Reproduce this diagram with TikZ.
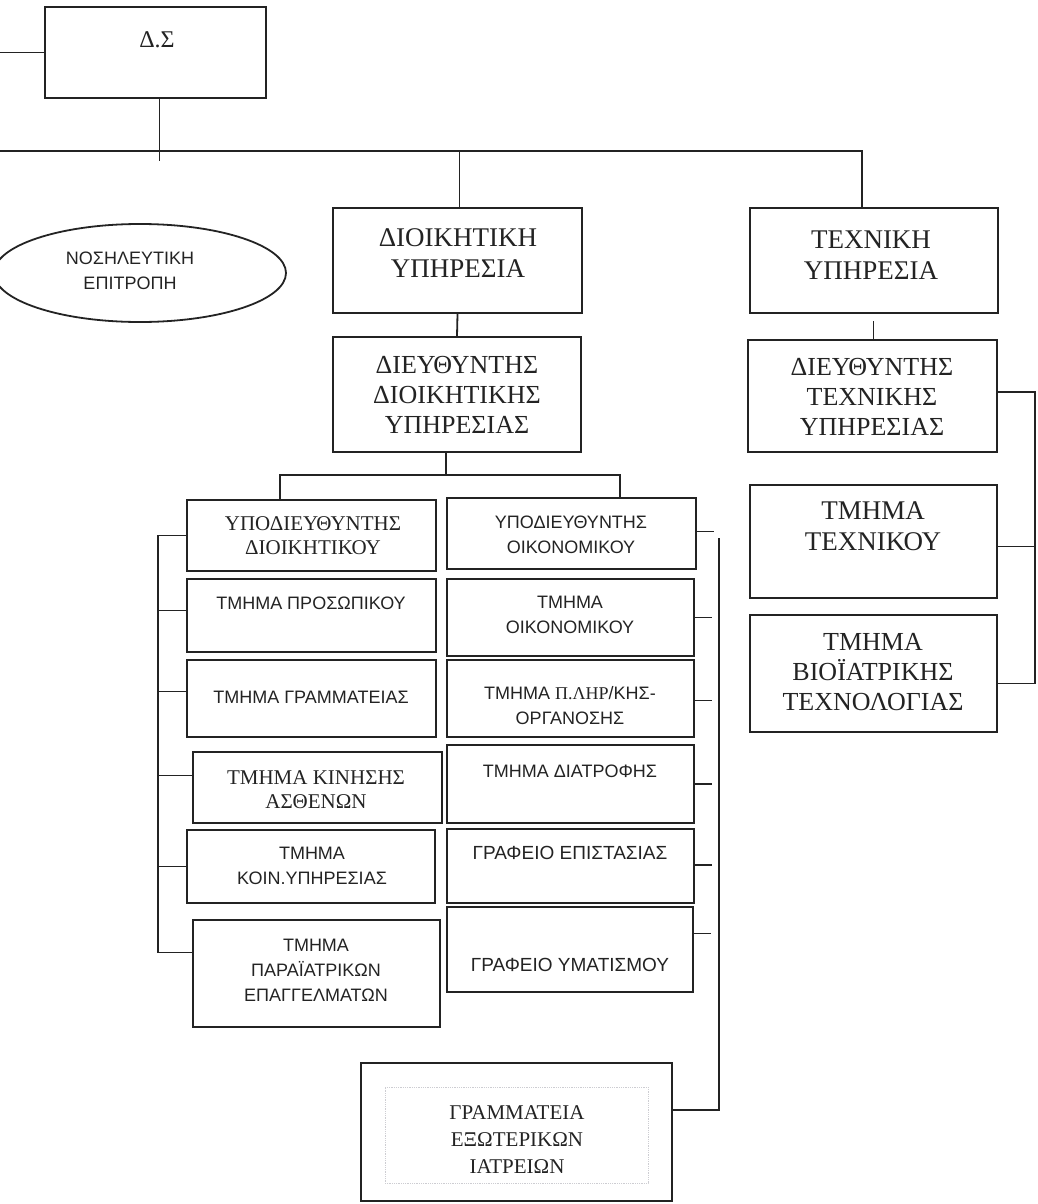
\documentclass[tikz,border=0pt]{standalone}
\usepackage{fontspec}
\setmainfont{Liberation Serif}
\setsansfont{Liberation Sans}
\usepackage{tikz}
\usetikzlibrary{positioning,fit,calc,shapes.geometric}
\definecolor{inkgray}{RGB}{35,35,35}
\definecolor{faintgray}{RGB}{205,205,210}

\tikzset{
  box/.style={draw=inkgray, line width=1.8pt, inner sep=0pt},
  conn/.style={draw=inkgray, line width=1.8pt},
  bigtxt/.style={font=\fontsize{27}{31}\selectfont, align=center, inner sep=0pt, text=inkgray},
  smtxt/.style={font=\fontsize{21}{24}\selectfont, align=center, inner sep=0pt, text=inkgray},
  sftxt/.style={font=\sffamily\fontsize{18}{25}\selectfont, align=center, inner sep=0pt, text=inkgray}
}

\begin{document}
\begin{tikzpicture}[x=1pt, y=-1pt]
  \useasboundingbox (0,0) rectangle (1037,1204);
  % top level
  \node[box, fit={(45,7) (266,98)}] (ds) {};
  \node[bigtxt, font=\fontsize{24}{26}\selectfont] (ds-t) at (157,40) {Δ.Σ};
  \node[box, ellipse, minimum width=292, minimum height=98] (nosil) at (140,273) {};
  \node[sftxt] (nosil-t) at (130,271) {ΝΟΣΗΛΕΥΤΙΚΗ\\ΕΠΙΤΡΟΠΗ};

  % services
  \node[box, fit={(333,208) (582,313)}] (dioik) {};
  \node[bigtxt] (dioik-t) at (458,253) {ΔΙΟΙΚΗΤΙΚΗ\\ΥΠΗΡΕΣΙΑ};
  \node[box, fit={(333,337) (581,452)}] (dieuth) {};
  \node[bigtxt, font=\fontsize{26}{30}\selectfont] (dieuth-t) at (457,395) {ΔΙΕΥΘΥΝΤΗΣ\\ΔΙΟΙΚΗΤΙΚΗΣ\\ΥΠΗΡΕΣΙΑΣ};
  \node[box, fit={(750,208) (998,313)}] (tech) {};
  \node[bigtxt] (tech-t) at (871,255) {ΤΕΧΝΙΚΗ\\ΥΠΗΡΕΣΙΑ};
  \node[box, fit={(748,340) (997,452)}] (dtech) {};
  \node[bigtxt, font=\fontsize{26}{30}\selectfont] (dtech-t) at (872,397) {ΔΙΕΥΘΥΝΤΗΣ\\ΤΕΧΝΙΚΗΣ\\ΥΠΗΡΕΣΙΑΣ};
  \node[box, fit={(750,485) (997,598)}] (ttech) {};
  \node[bigtxt] (ttech-t) at (873,526) {ΤΜΗΜΑ\\ΤΕΧΝΙΚΟΥ};
  \node[box, fit={(750,615) (997,732)}] (bio) {};
  \node[bigtxt, font=\fontsize{26}{30}\selectfont] (bio-t) at (873,672) {ΤΜΗΜΑ\\ΒΙΟΪΑΤΡΙΚΗΣ\\ΤΕΧΝΟΛΟΓΙΑΣ};

  % left column
  \node[box, fit={(187,500) (436,571)}] (ypod) {};
  \node[smtxt] (ypod-t) at (313,536) {ΥΠΟΔΙΕΥΘΥΝΤΗΣ\\ΔΙΟΙΚΗΤΙΚΟΥ};
  \node[box, fit={(187,579) (436,652)}] (pros) {};
  \node[sftxt] (pros-t) at (311,603) {ΤΜΗΜΑ ΠΡΟΣΩΠΙΚΟΥ};
  \node[box, fit={(187,660) (436,737)}] (gram) {};
  \node[sftxt] (gram-t) at (311,697) {ΤΜΗΜΑ ΓΡΑΜΜΑΤΕΙΑΣ};
  \node[box, fit={(193,752) (442,823)}] (kin) {};
  \node[smtxt] (kin-t) at (316,790) {ΤΜΗΜΑ ΚΙΝΗΣΗΣ\\ΑΣΘΕΝΩΝ};
  \node[box, fit={(187,830) (435,903)}] (koin) {};
  \node[sftxt] (koin-t) at (312,866) {ΤΜΗΜΑ\\ΚΟΙΝ.ΥΠΗΡΕΣΙΑΣ};
  \node[box, fit={(193,920) (440,1027)}] (para) {};
  \node[sftxt] (para-t) at (316,970) {ΤΜΗΜΑ\\ΠΑΡΑΪΑΤΡΙΚΩΝ\\ΕΠΑΓΓΕΛΜΑΤΩΝ};

  % right column
  \node[box, fit={(447,498) (696,569)}] (ypoo) {};
  \node[sftxt] (ypoo-t) at (571,535) {ΥΠΟΔΙΕΥΘΥΝΤΗΣ\\ΟΙΚΟΝΟΜΙΚΟΥ};
  \node[box, fit={(447,579) (694,656)}] (oik) {};
  \node[sftxt] (oik-t) at (570,615) {ΤΜΗΜΑ\\ΟΙΚΟΝΟΜΙΚΟΥ};
  \node[box, fit={(447,660) (694,737)}] (plir) {};
  \node[sftxt] (plir-t) at (570,706) {ΤΜΗΜΑ {\rmfamily Π.ΛΗΡ}/ΚΗΣ-\\ΟΡΓΑΝΟΣΗΣ};
  \node[box, fit={(447,745) (694,823)}] (diat) {};
  \node[sftxt] (diat-t) at (570,771) {ΤΜΗΜΑ ΔΙΑΤΡΟΦΗΣ};
  \node[box, fit={(447,829) (694,903)}] (epis) {};
  \node[sftxt, font=\sffamily\fontsize{19}{25}\selectfont] (epis-t) at (570,853) {ΓΡΑΦΕΙΟ ΕΠΙΣΤΑΣΙΑΣ};
  \node[box, fit={(447,907) (693,992)}] (ymat) {};
  \node[sftxt, font=\sffamily\fontsize{19}{25}\selectfont] (ymat-t) at (570,965) {ΓΡΑΦΕΙΟ ΥΜΑΤΙΣΜΟΥ};

  % outpatient office
  \node[box, fit={(361,1063) (672,1201)}] (grex) {};
  \node[draw=faintgray, densely dotted, line width=0.8pt, inner sep=0pt, fit={(385,1087) (648,1183)}] (grex-in) {};
  \node[smtxt, font=\fontsize{21}{27}\selectfont] (grex-t) at (517,1140) {ΓΡΑΜΜΑΤΕΙΑ\\ΕΞΩΤΕΡΙΚΩΝ\\ΙΑΤΡΕΙΩΝ};

  % connectors
  \coordinate (lft) at (0,151);
  \coordinate (busR) at (862,151);
  \coordinate (busL2) at (280,475);
  \coordinate (busR2) at (620,475);
  \coordinate (brL) at (158,537);
  \coordinate (brR) at (719,538);
  \coordinate (brT) at (1035,392);

  \draw[conn] (ds.west) -- (ds.west -| lft);
  \draw[conn] ([xshift=4pt]ds.south) -- ++(0,62);
  \draw[conn] (lft) -- (busR) -- (busR |- tech.north);
  \draw[conn] ([xshift=2pt]dioik.north |- lft) -- ([xshift=2pt]dioik.north);
  \draw[conn] (dioik.south) -- (dieuth.north);
  \draw[conn] ([xshift=-11pt]dieuth.south) -- ([xshift=-11pt]dieuth.south |- busL2);
  \draw[conn] (ypod.north -| busL2) -- (busL2) -- (busR2) -- (busR2 |- ypoo.north);

  % left bracket
  \draw[conn] (ypod.west) -- (ypod.west -| brL) |- ([yshift=21pt]para.west);
  \foreach \n/\s in {pros/5, gram/7, kin/12, koin/0}
    \draw[conn] ([yshift=\s pt]\n.west) -- ([yshift=\s pt]\n.west -| brL);

  % right bracket
  \foreach \n/\s in {ypoo/2, oik/0, plir/-2, diat/0, epis/1, ymat/16}
    \draw[conn] ([yshift=\s pt]\n.east) -- ++(17,0);
  \draw[conn] (brR) |- ([yshift=22pt]grex.east);

  % technical bracket
  \draw[conn] ([xshift=1pt]dtech.north) -- ++(0,-18);
  \draw[conn] ([yshift=4pt]dtech.east) -- (brT) |- ([yshift=-10pt]bio.east);
  \draw[conn] ([yshift=-5pt]ttech.east) -- ([yshift=-5pt]ttech.east -| brT);
\end{tikzpicture}
\end{document}
